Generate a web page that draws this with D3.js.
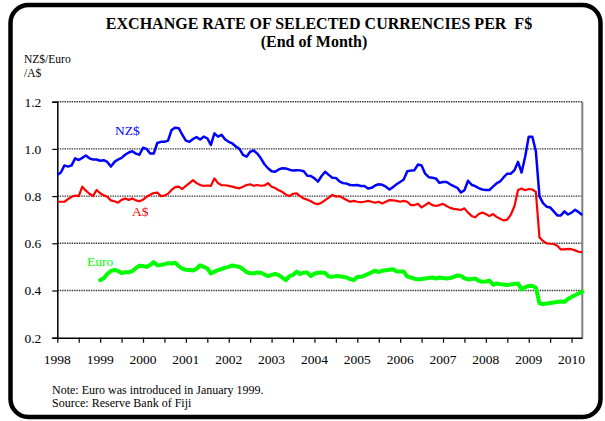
<!DOCTYPE html>
<html>
<head>
<meta charset="utf-8">
<script src="https://cdn.jsdelivr.net/npm/d3@7/dist/d3.min.js"></script>
<style>
  html, body { margin: 0; padding: 0; background: #fff; }
  svg { display: block; }
  text { font-family: "Liberation Serif", "Times New Roman", serif; }
</style>
</head>
<body>
<svg id="chart" width="605" height="421"></svg>
<script>
// Month-end exchange rates per F$, Jan 1998 – Apr 2010 (one value per month)
const yearLabels = ["1998","1999","2000","2001","2002","2003","2004","2005","2006","2007","2008","2009","2010"];
const yTicks = [0.2, 0.4, 0.6, 0.8, 1.0, 1.2];
const gridValues = [0.4, 0.6, 0.8, 1.0, 1.2];

const nzd = [
  0.89, 0.90, 0.93, 0.925, 0.93, 0.96, 0.953, 0.962, 0.972, 0.96, 0.955, 0.955,
  0.95, 0.952, 0.945, 0.925, 0.945, 0.955, 0.962, 0.975, 0.985, 0.99, 0.98, 0.975,
  1.005, 1.0, 0.98, 0.98, 1.025, 1.03, 1.03, 1.035, 1.08, 1.09, 1.088, 1.06,
  1.035, 1.03, 1.042, 1.05, 1.04, 1.052, 1.045, 1.017, 1.066, 1.052, 1.06, 1.04,
  1.03, 1.023, 1.01, 1.0, 0.975, 0.967, 0.988, 0.993, 0.98, 0.96, 0.935, 0.918,
  0.905, 0.903, 0.913, 0.918, 0.917, 0.912, 0.908, 0.91, 0.909, 0.905, 0.886, 0.885,
  0.875, 0.861, 0.885, 0.903, 0.89, 0.878, 0.877, 0.862, 0.855, 0.853, 0.847, 0.846,
  0.847, 0.843, 0.843, 0.832, 0.835, 0.845, 0.85, 0.848, 0.84, 0.828, 0.838, 0.85,
  0.86, 0.87, 0.905, 0.908, 0.91, 0.934, 0.93, 0.895, 0.88, 0.878, 0.875, 0.856,
  0.86, 0.86, 0.85, 0.842, 0.835, 0.815, 0.825, 0.865, 0.848, 0.842, 0.834, 0.828,
  0.826, 0.826, 0.84, 0.854, 0.862, 0.88, 0.895, 0.895, 0.91, 0.945, 0.9, 0.967,
  1.052, 1.052, 0.99, 0.8, 0.77, 0.755, 0.752, 0.735, 0.718, 0.718, 0.735, 0.722,
  0.73, 0.742, 0.732, 0.72
];

const aud = [
  0.776, 0.776, 0.776, 0.787, 0.797, 0.802, 0.8, 0.84, 0.823, 0.81, 0.8, 0.826,
  0.812, 0.803, 0.797, 0.782, 0.778, 0.772, 0.784, 0.79, 0.784, 0.79, 0.782, 0.778,
  0.785, 0.797, 0.806, 0.813, 0.815, 0.8, 0.802, 0.81, 0.826, 0.838, 0.84, 0.83,
  0.843, 0.855, 0.868, 0.855, 0.847, 0.843, 0.845, 0.843, 0.875, 0.855, 0.846, 0.846,
  0.843, 0.84, 0.836, 0.833, 0.84, 0.847, 0.85, 0.844, 0.847, 0.844, 0.845, 0.855,
  0.84, 0.834, 0.825, 0.818, 0.806, 0.8, 0.81, 0.812, 0.8, 0.79, 0.785, 0.778,
  0.769, 0.766, 0.772, 0.783, 0.794, 0.805, 0.798, 0.8, 0.792, 0.783, 0.776, 0.78,
  0.776, 0.774, 0.776, 0.78, 0.776, 0.772, 0.776, 0.769, 0.776, 0.783, 0.782, 0.78,
  0.776, 0.78, 0.776, 0.762, 0.762, 0.767, 0.752, 0.762, 0.772, 0.762, 0.758, 0.762,
  0.767, 0.758, 0.75, 0.746, 0.744, 0.741, 0.748, 0.73, 0.716, 0.71, 0.724, 0.73,
  0.724, 0.715, 0.724, 0.712, 0.704, 0.697, 0.7, 0.722, 0.757, 0.826, 0.832, 0.825,
  0.83, 0.828, 0.818, 0.625, 0.61, 0.6, 0.598, 0.597, 0.59, 0.574, 0.574, 0.576,
  0.575, 0.57, 0.564, 0.562
];

// Euro series begins January 1999 (month index 12)
const euroStart = 12;
const eur = [
  0.444, 0.452, 0.47, 0.483, 0.487, 0.483, 0.474, 0.477, 0.477, 0.482, 0.495, 0.505,
  0.504, 0.5, 0.508, 0.52, 0.507, 0.508, 0.512, 0.516, 0.514, 0.518, 0.503, 0.493,
  0.488, 0.487, 0.485, 0.492, 0.507, 0.5, 0.494, 0.472, 0.48, 0.486, 0.491, 0.497,
  0.5, 0.506, 0.503, 0.5, 0.49, 0.478, 0.473, 0.473, 0.476, 0.475, 0.468, 0.461,
  0.466, 0.47, 0.465, 0.455, 0.444, 0.461, 0.466, 0.48, 0.47, 0.476, 0.476, 0.461,
  0.472, 0.475, 0.476, 0.474, 0.459, 0.458, 0.461, 0.46, 0.458, 0.455, 0.448, 0.444,
  0.457, 0.458, 0.463, 0.47, 0.477, 0.484, 0.478, 0.484, 0.486, 0.488, 0.49, 0.481,
  0.48, 0.48, 0.459, 0.455, 0.45, 0.447, 0.449, 0.451, 0.453, 0.455, 0.451, 0.455,
  0.453, 0.451, 0.453, 0.458, 0.464, 0.462, 0.452, 0.447, 0.449, 0.451, 0.441, 0.437,
  0.438, 0.442, 0.424, 0.43, 0.427, 0.425, 0.423, 0.426, 0.428, 0.43, 0.404, 0.414,
  0.419, 0.42, 0.412, 0.346, 0.342, 0.345, 0.347, 0.349, 0.351, 0.353, 0.352, 0.364,
  0.373, 0.38, 0.388, 0.395
];

const svg = d3.select("#chart");

// rounded outer frame
svg.append("rect")
  .attr("x", 10.5).attr("y", 5).attr("width", 590).attr("height", 412)
  .attr("rx", 18).attr("ry", 18)
  .attr("fill", "#fff").attr("stroke", "#000").attr("stroke-width", 4.5);

// titles
svg.append("text").attr("x", 319).attr("y", 29).attr("text-anchor", "middle")
  .attr("font-size", 16).attr("font-weight", "bold").style("white-space", "pre")
  .text("EXCHANGE RATE OF SELECTED CURRENCIES PER  F$");
svg.append("text").attr("x", 314).attr("y", 47).attr("text-anchor", "middle")
  .attr("font-size", 16).attr("font-weight", "bold")
  .text("(End of Month)");

// y-axis unit caption (two lines)
svg.append("text").attr("x", 24).attr("y", 63).attr("font-size", 11.5).text("NZ$/Euro");
svg.append("text").attr("x", 24).attr("y", 77).attr("font-size", 11.5).text("/A$");

// plot area bounds
const plotL = 57.3, plotR = 582.3, plotT = 101.7, plotB = 337.7;
const nMonths = nzd.length;
const x = d3.scaleLinear().domain([0, nMonths - 1]).range([plotL, plotR]);
const y = d3.scaleLinear().domain([0.2, 1.2]).range([plotB, plotT]);

// dotted gridlines
svg.append("g").selectAll("line").data(gridValues).join("line")
  .attr("x1", plotL).attr("x2", plotR)
  .attr("y1", d => y(d)).attr("y2", d => y(d))
  .attr("stroke", "#333").attr("stroke-width", 1.4)
  .attr("stroke-dasharray", "1.4,1");

// right edge of plot area
svg.append("line").attr("x1", plotR).attr("x2", plotR).attr("y1", plotT).attr("y2", plotB)
  .attr("stroke", "#808080").attr("stroke-width", 2);

// y axis
const yAxis = d3.axisLeft(y).tickValues(yTicks).tickFormat(d3.format(".1f"))
  .tickSize(5).tickPadding(11);
const gy = svg.append("g").attr("transform", `translate(${plotL},0)`).call(yAxis);
gy.select(".domain").attr("stroke", "#000").attr("stroke-width", 1.5);
gy.selectAll(".tick line").attr("stroke", "#000").attr("stroke-width", 1.2);
gy.selectAll(".tick text").attr("font-size", 13.5)
  .attr("font-family", "'Liberation Serif', 'Times New Roman', serif").attr("fill", "#000");

// x axis: a tick every six months, a label every January
const halfYears = d3.range(0, nMonths, 6);
const xAxis = d3.axisBottom(x).tickValues(halfYears).tickFormat("").tickSize(5).tickSizeOuter(0);
const gx = svg.append("g").attr("transform", `translate(0,${plotB})`).call(xAxis);
gx.select(".domain").attr("stroke", "#000").attr("stroke-width", 1.5);
gx.selectAll(".tick line").attr("stroke", "#000").attr("stroke-width", 1.2);

svg.append("g").selectAll("text").data(yearLabels).join("text")
  .attr("x", (d, i) => x(i * 12)).attr("y", 364)
  .attr("text-anchor", "middle").attr("font-size", 13.5)
  .text(d => d);

// series
const line = d3.line().x(d => x(d.i)).y(d => y(d.v));
const toPts = (arr, offset) => arr.map((v, k) => ({ i: k + offset, v }));

svg.append("path").datum(toPts(eur, euroStart)).attr("d", line)
  .attr("fill", "none").attr("stroke", "#00ff00").attr("stroke-width", 4)
  .attr("stroke-linejoin", "round").attr("stroke-linecap", "round");
svg.append("path").datum(toPts(aud, 0)).attr("d", line)
  .attr("fill", "none").attr("stroke", "#ff0000").attr("stroke-width", 2.2)
  .attr("stroke-linejoin", "round");
svg.append("path").datum(toPts(nzd, 0)).attr("d", line)
  .attr("fill", "none").attr("stroke", "#0000ff").attr("stroke-width", 2.5)
  .attr("stroke-linejoin", "round");

// series labels
svg.append("text").attr("x", 115).attr("y", 135).attr("font-size", 13.5).attr("fill", "#0000ff").text("NZ$");
svg.append("text").attr("x", 132).attr("y", 216).attr("font-size", 13.5).attr("fill", "#ff0000").text("A$");
svg.append("text").attr("x", 87).attr("y", 266).attr("font-size", 13.5).attr("fill", "#00ff00").text("Euro");

// notes
svg.append("text").attr("x", 52).attr("y", 394).attr("font-size", 12).text("Note: Euro was introduced in January 1999.");
svg.append("text").attr("x", 52).attr("y", 407).attr("font-size", 12).text("Source: Reserve Bank of Fiji");
</script>
</body>
</html>
